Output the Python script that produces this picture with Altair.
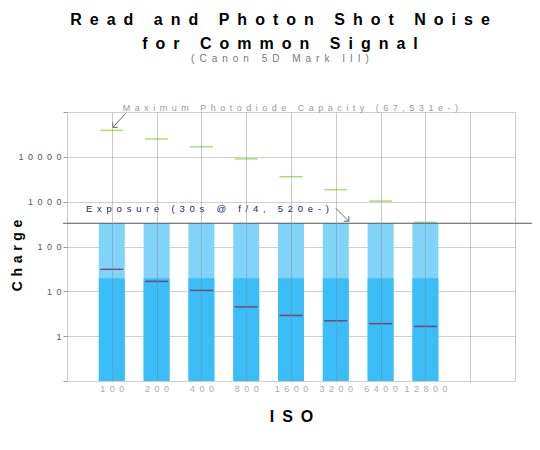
import altair as alt
import pandas as pd

# ISO steps along the x axis (two empty slots are kept on the right)
iso = ["100", "200", "400", "800", "1600", "3200", "6400", "12800"]
# electrons
signal = [330, 330, 330, 330, 330, 330, 330, 330]
shot_noise = [19.5, 19.5, 19.5, 19.5, 19.5, 19.5, 19.5, 19.5]
read_noise = [31, 16.7, 10.5, 4.5, 2.9, 2.2, 1.9, 1.65]
capacity = [39000, 25000, 16800, 9000, 3600, 1850, 1030, 345]
exposure = 330

y_ticks = [0.1, 1, 10, 100, 1000, 10000, 100000]
y_labels = ["", "1", "10", "100", "1000", "10000", ""]
n_slots = 10

title_lines = ["Read and Photon Shot Noise", "for Common Signal"]
subtitle = "(Canon 5D Mark III)"
capacity_note = "Maximum Photodiode Capacity (67,531e-)"
exposure_note = "Exposure (30s @ f/4, 520e-)"

EN = "\u2002"


def spread(text, gap=EN):
    # wide letter spacing like the original
    return gap.join(text)


def js_list(items):
    return "[" + ",".join("'" + spread(s) + "'" for s in items) + "]"


def arrow(x, y, tail, tip, heads, color="#666666"):
    # thin arrow drawn with rules, offsets in pixels from a data anchor
    one = pd.DataFrame({"a": [0]})
    segs = [(tail, tip)] + [(tip, (tip[0] + hx, tip[1] + hy)) for hx, hy in heads]
    out = []
    for (ax, ay), (bx, by) in segs:
        out.append(
            alt.Chart(one).mark_rule(
                color=color, strokeWidth=1,
                xOffset=ax, yOffset=ay, x2Offset=bx, y2Offset=by,
            ).encode(x=alt.datum(x), x2=alt.datum(x),
                     y=alt.datum(y), y2=alt.datum(y))
        )
    return out


df = pd.DataFrame(
    {
        "iso": iso,
        "slot": range(1, len(iso) + 1),
        "signal": signal,
        "shot": shot_noise,
        "read": read_noise,
        "capacity": capacity,
    }
)
df["floor"] = y_ticks[0]

x_labels = [""] + iso + [""] * (n_slots - len(iso))

x_axis = alt.Axis(
    values=list(range(n_slots + 1)),
    labelExpr=js_list(x_labels) + "[datum.value]",
    grid=True,
    gridColor="#888888",
    gridOpacity=0.45,
    ticks=False,
    domain=False,
    labelColor="#aaaaaa",
    labelFontSize=9,
    labelPadding=3,
    labelFlush=False,
    labelOverlap=False,
    titleFontSize=16,
    titleFontWeight="bold",
    titlePadding=15,
    titleColor="black",
    zindex=1,
)

y_axis = alt.Axis(
    values=y_ticks,
    labelExpr=js_list(y_labels) + "[round(log(datum.value) / LN10) + 1]",
    grid=True,
    gridColor="#d0d0d0",
    tickColor="#999999",
    tickSize=4,
    domain=False,
    labelColor="#555555",
    labelFontSize=9,
    labelPadding=2,
    labelOverlap=False,
    titleFontSize=14,
    titleFontWeight="bold",
    titleColor="black",
    titleX=-50,
    titleY=143,
    titleBaseline="middle",
)

x_enc = alt.X("slot:Q", scale=alt.Scale(domain=[0, n_slots], padding=0,
                                        nice=False, zero=False),
              axis=x_axis, title=spread("ISO"))
y_scale = alt.Scale(type="log", domain=[y_ticks[0], y_ticks[-1]], padding=0)

base = alt.Chart(df)

light = base.mark_bar(size=26, color="#80d4fa").encode(
    x=x_enc,
    y=alt.Y("signal:Q", scale=y_scale, axis=y_axis,
            title=spread("Charge", "\u2004")),
    y2="floor:Q",
)
dark = base.mark_bar(size=26, color="#3bbdf8").encode(
    x="slot:Q", y="shot:Q", y2="floor:Q"
)
reads = base.mark_tick(orient="horizontal", size=23, thickness=1.5,
                       color="#8b1538").encode(x="slot:Q", y="read:Q")
caps = base.mark_tick(orient="horizontal", size=23, thickness=1.5,
                      color="#8ccf3f").encode(x="slot:Q", y="capacity:Q")

expo = alt.Chart(pd.DataFrame({"v": [exposure]})).mark_rule(
    color="#555555", strokeWidth=1
).encode(y="v:Q", x=alt.value(-4), x2=alt.value(465))

cap_text = alt.Chart(pd.DataFrame({"t": [spread(capacity_note)]})).mark_text(
    align="left", baseline="alphabetic", dx=11, dy=-1, fontSize=9,
    color="#999999"
).encode(x=alt.datum(1), y=alt.datum(y_ticks[-1]), text="t:N")

expo_text = alt.Chart(pd.DataFrame({"t": [spread(exposure_note)]})).mark_text(
    align="left", baseline="alphabetic", dx=19, dy=-11, fontSize=9.5,
    color="#222266"
).encode(x=alt.datum(0), y=alt.datum(exposure), text="t:N")

# arrow from the capacity note down to the ISO 100 capacity tick
arrow_cap = arrow(1, capacity[0], tail=(14, -17), tip=(1, -3),
                  heads=[(5, 0), (0, -5)])
# arrow from the exposure note down to the exposure line
arrow_expo = arrow(6, exposure, tail=(0, -15), tip=(13, -2),
                   heads=[(-5, 0), (0, -5)])

chart = (
    alt.layer(light, dark, reads, caps, expo, cap_text, expo_text,
              *arrow_cap, *arrow_expo)
    .properties(
        width=448,
        height=269,
        autosize=alt.AutoSizeParams(type="none"),
        padding={"left": 59, "top": 104, "right": 17, "bottom": 61},
        title=alt.Title(
            text=[spread(line) for line in title_lines],
            subtitle=spread(subtitle),
            fontSize=16,
            fontWeight="bold",
            lineHeight=24,
            color="black",
            subtitleFontSize=10,
            subtitleColor="#777777",
            subtitlePadding=2,
            anchor="middle",
            offset=40,
            dx=-11,
        ),
    )
    .configure(font="Liberation Sans")
    .configure_view(stroke=None)
)

chart.save("out.html", embed_options={"renderer": "svg", "actions": False})
